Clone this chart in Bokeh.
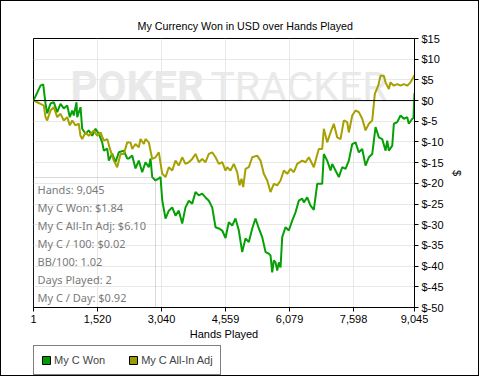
from bokeh.plotting import figure
from bokeh.layouts import column
from bokeh.models import (Range1d, FixedTicker, NumeralTickFormatter, PrintfTickFormatter,
                          Span, BoxAnnotation, Label, Legend, LegendItem, Title)
from bokeh.embed import file_html
from bokeh.resources import INLINE
from bokeh.core.properties import value

# ---- data ----
won_hands = [1, 167, 231, 286, 326, 405, 483, 564, 642, 720, 801, 863, 920, 958, 1022, 1038,
             1117, 1157, 1235, 1314, 1394, 1473, 1551, 1632, 1670, 1751, 1789, 1869, 1948, 2026,
             2145, 2225, 2263, 2344, 2422, 2501, 2581, 2660, 2738, 2779, 2819, 2897, 2976, 3016,
             3057, 3135, 3213, 3294, 3372, 3450, 3531, 3609, 3688, 3768, 3847, 3925, 4006, 4084,
             4163, 4243, 4322, 4400, 4481, 4559, 4637, 4718, 4796, 4875, 4955, 5034, 5112, 5193,
             5271, 5350, 5430, 5509, 5587, 5627, 5668, 5706, 5746, 5786, 5825, 5865, 5905, 5983,
             6062, 6142, 6221, 6299, 6380, 6418, 6498, 6577, 6655, 6736, 6814, 6854, 6893, 6973,
             7052, 7092, 7170, 7249, 7329, 7408, 7486, 7567, 7645, 7724, 7804, 7883, 7961, 8042,
             8120, 8199, 8279, 8358, 8398, 8436, 8517, 8555, 8635, 8713, 8792, 8872, 8910, 8991,
             9020, 9045]
won_usd = [0.0, 3.6, 3.9, -0.7, -3.1, -0.7, -0.4, -2.8, -0.8, -1.9, -1.2, -4.0, -2.4, -3.6, -0.4, -4.0,
           -1.6, -6.8, -8.0, -7.2, -8.5, -6.8, -8.0, -10.1, -12.1, -11.6, -14.5, -12.8, -14.9, -12.5,
           -12.1, -14.0, -14.0, -13.3, -16.4, -14.5, -17.3, -14.9, -16.1, -14.0, -18.5, -19.3, -18.8, -18.5,
           -24.1, -28.5, -26.6, -25.8, -27.8, -26.6, -29.7, -25.8, -24.2, -24.9, -22.1, -22.9, -22.5, -23.4,
           -24.2, -25.8, -30.6, -30.9, -31.4, -33.2, -29.4, -30.2, -28.5, -31.4, -36.6, -33.3, -34.2, -30.9,
           -28.5, -30.9, -33.0, -36.6, -37.0, -37.4, -41.5, -38.6, -39.1, -41.1, -39.1, -40.3, -33.0, -30.6,
           -31.4, -29.0, -27.0, -24.2, -23.7, -24.6, -23.4, -25.4, -26.4, -20.1, -20.1, -20.1, -12.9, -14.5,
           -16.9, -15.3, -16.9, -18.5, -16.1, -16.5, -14.5, -10.5, -10.1, -12.5, -11.7, -15.7, -13.7, -12.9,
           -6.4, -8.9, -9.3, -12.1, -9.7, -12.1, -10.9, -5.6, -5.2, -3.6, -4.4, -4.0, -5.6, -4.4,
           -4.2, 1.84]

adj_hands = [1, 89, 167, 246, 286, 326, 405, 483, 564, 642, 720, 801, 863, 920, 998, 1076, 1117,
             1157, 1235, 1314, 1433, 1513, 1592, 1670, 1751, 1829, 1907, 1988, 2066, 2145, 2225,
             2304, 2344, 2422, 2501, 2541, 2620, 2660, 2738, 2819, 2897, 2976, 3057, 3135, 3213,
             3294, 3372, 3450, 3531, 3609, 3688, 3768, 3847, 3925, 4006, 4084, 4163, 4243, 4322,
             4400, 4481, 4559, 4599, 4677, 4756, 4836, 4891, 4938, 4979, 5034, 5112, 5193, 5311,
             5390, 5468, 5549, 5627, 5706, 5786, 5865, 5943, 6023, 6102, 6180, 6261, 6380, 6458,
             6537, 6655, 6719, 6774, 6854, 6893, 6973, 7052, 7130, 7211, 7289, 7368, 7448, 7486,
             7567, 7645, 7724, 7804, 7883, 7961, 8042, 8103, 8184, 8238, 8317, 8358, 8436, 8476,
             8555, 8635, 8713, 8792, 8872, 8950, 9045]
adj_usd = [0.0, -0.4, -0.8, -1.2, -4.0, -4.8, -2.4, -1.6, -4.0, -3.2, -4.8, -4.0, -6.0, -4.8, -6.0, -5.6, -8.5,
           -9.3, -7.7, -8.5, -7.2, -8.5, -7.7, -9.7, -9.3, -12.1, -14.5, -16.1, -12.9, -12.9, -10.1,
           -10.1, -11.7, -10.5, -11.3, -9.3, -10.5, -9.3, -10.1, -14.1, -13.7, -12.5, -17.7, -18.5, -16.1,
           -16.9, -14.5, -15.7, -13.7, -15.3, -14.9, -14.1, -12.9, -14.9, -14.1, -14.9, -12.9, -12.5, -13.7,
           -15.3, -14.9, -16.9, -16.1, -16.9, -15.3, -17.3, -20.5, -18.9, -20.9, -16.5, -16.1, -13.7, -13.3,
           -14.5, -17.7, -19.3, -22.1, -20.1, -20.5, -19.3, -16.9, -17.7, -16.5, -17.3, -15.3, -14.5, -14.9,
           -13.7, -16.1, -13.7, -11.7, -11.7, -6.8, -10.1, -7.7, -5.6, -8.9, -9.3, -4.8, -5.2, -7.7,
           -3.6, -2.4, -2.8, -4.4, -7.2, -5.6, -4.8, 1.6, 3.6, 6.0, 6.0, 4.4, 2.8, 4.4,
           3.6, 4.0, 3.6, 4.0, 3.6, 4.4, 6.10]

x_ticks = [1, 1520, 3040, 4559, 6079, 7598, 9045]
y_ticks = [-50, -45, -40, -35, -30, -25, -20, -15, -10, -5, 0, 5, 10, 15]
series_names = ["My C Won", "My C All-In Adj"]
series_colors = ["#06a006", "#a6a000"]
summary_lines = ["Hands: 9,045", "My C Won: $1.84", "My C All-In Adj: $6.10", "My C / 100: $0.02",
                 "BB/100: 1.02", "Days Played: 2", "My C / Day: $0.92"]

FONT = "Liberation Sans"

p = figure(width=477, height=342, output_backend="svg", toolbar_location=None,
           x_range=Range1d(1, 9045), y_range=Range1d(-50, 15),
           y_axis_location="right",
           min_border_left=32, min_border_right=64, min_border_top=37, min_border_bottom=36)
p.background_fill_color = "white"
p.border_fill_color = "white"
p.outline_line_color = "black"
p.outline_line_width = 1

p.title = Title(text="My Currency Won in USD over Hands Played", align="left",
                text_font=FONT, text_font_size="10.7px", text_font_style="normal",
                text_color="black", offset=104, standoff=14)

# grids
p.xgrid.ticker = FixedTicker(ticks=x_ticks)
p.ygrid.ticker = FixedTicker(ticks=y_ticks)
p.grid.grid_line_color = "#e8e8e8"
p.grid.grid_line_width = 1

# axes
xa = p.xaxis[0]
xa.ticker = FixedTicker(ticks=x_ticks)
xa.formatter = NumeralTickFormatter(format="0,0")
xa.axis_label = "Hands Played"
ya = p.yaxis[0]
ya.ticker = FixedTicker(ticks=y_ticks)
ya.formatter = PrintfTickFormatter(format="$%d")
ya.axis_label = "$"
for ax in (xa, ya):
    ax.axis_line_color = "black"
    ax.major_tick_line_color = "black"
    ax.major_tick_in = 0
    ax.major_tick_out = 4
    ax.minor_tick_line_color = None
    ax.major_label_text_font = FONT
    ax.major_label_text_font_size = "11px"
    ax.major_label_text_color = "black"
    ax.major_label_standoff = 3
    ax.axis_label_text_font = FONT
    ax.axis_label_text_font_size = "11px"
    ax.axis_label_text_font_style = "normal"
    ax.axis_label_text_color = "black"
xa.axis_label_standoff = 2
ya.axis_label_standoff = 4

# watermark
p.add_layout(Label(x=880, y=3.4, text="POKER", text_font="Roboto", text_font_size="42px",
                   text_font_style="bold", text_color="#e9e9e9", text_baseline="middle",
                   level="underlay"))
p.add_layout(Label(x=4200, y=3.4, text="TRACKER", text_font="Roboto", text_font_size="41px",
                   text_color="#e9e9e9", text_baseline="middle", level="underlay"))

# zero line
p.add_layout(Span(location=0, dimension="width", line_color="black", line_width=1))

# series
p.line(won_hands, won_usd, line_color=series_colors[0], line_width=2)
p.line(adj_hands, adj_usd, line_color=series_colors[1], line_width=2)

# summary box
p.add_layout(BoxAnnotation(left=1, right=2897, top=-18.6, bottom=-54.6, fill_alpha=0,
                           line_color="#808080", line_width=1, level="overlay"))
xs = [96] * len(summary_lines)
ys = [-21.6 - i * 4.35 for i in range(len(summary_lines))]
p.text(xs, ys, text=summary_lines, text_font=value("Noto Sans"), text_font_size="11px",
       text_color="#7a7a7a", text_baseline="middle")

# legend strip under the chart
lf = figure(width=477, height=32, output_backend="svg", toolbar_location=None,
            x_range=Range1d(0, 1), y_range=Range1d(0, 1),
            x_axis_location=None, y_axis_location=None,
            min_border=0, min_border_left=0, min_border_right=0,
            min_border_top=0, min_border_bottom=0)
lf.grid.visible = False
lf.outline_line_color = None
lf.background_fill_color = "white"
lf.border_fill_color = "white"
# legend swatches (kept off the visible range; only their legend icons show)
r1 = lf.quad(left=[5], right=[6], top=[6], bottom=[5], fill_color="#009c00", line_color="black")
r2 = lf.quad(left=[5], right=[6], top=[6], bottom=[5], fill_color="#9c9a00", line_color="black")
legend = Legend(items=[LegendItem(label=series_names[0], renderers=[r1]),
                       LegendItem(label=series_names[1], renderers=[r2])],
                orientation="horizontal", location=(0, 0),
                border_line_color="black", border_line_width=1, background_fill_alpha=1,
                glyph_width=10, glyph_height=10, label_standoff=3, spacing=23, padding=7,
                margin=0, label_text_font=FONT, label_text_font_size="11px",
                label_height=14)
lf.add_layout(legend, "center")

layout = column(p, lf, spacing=0, styles={"border": "1px solid black"})

open("out.html", "w").write(file_html(layout, INLINE))
